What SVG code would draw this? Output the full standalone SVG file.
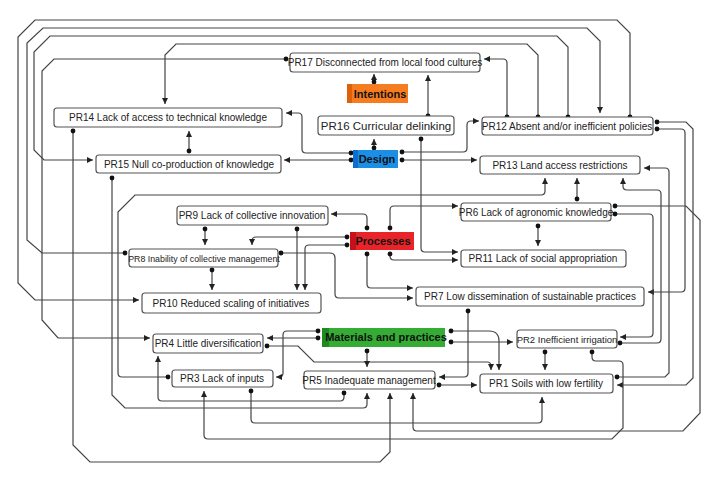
<svg xmlns="http://www.w3.org/2000/svg" width="723" height="484" viewBox="0 0 723 484">
<defs>
<marker id="ar" markerUnits="userSpaceOnUse" markerWidth="7" markerHeight="7" refX="6" refY="3.5" orient="auto"><path d="M0,0.5 L6,3.5 L0,6.5 z" fill="#222"/></marker>
<marker id="dt" markerUnits="userSpaceOnUse" markerWidth="6" markerHeight="6" refX="3" refY="3" orient="auto"><circle cx="3" cy="3" r="2.4" fill="#111"/></marker>
<style>
.n rect{fill:#fff;stroke:#555;stroke-width:1.2}
.n text{font-family:"Liberation Sans",Arial,sans-serif;font-size:10px;fill:#222;text-anchor:middle}
.c text{font-family:"Liberation Sans",Arial,sans-serif;font-size:11px;font-weight:bold;fill:#111;text-anchor:middle}
#conn path{fill:none;stroke:#444;stroke-width:1.2;marker-start:url(#dt);marker-end:url(#ar)}
</style>
</defs>
<rect width="723" height="484" fill="#fff"/>
<g id="conn">
<path d="M630,117 V33 L617,20 H35 L18,37 V283 L35,300 H139"/>
<path d="M125,253 H42 L27,240 V43 L43,28 H587 L600,41 V113"/>
<path d="M568,117 V47 L557,36 H50 L34,52 V150 L44,160 H93"/>
<path d="M538,117 V55 L527,44 H176 L165,55 V104"/>
<path d="M286,59 H54 L42,71 V320 L58,338 H150"/>
<path d="M507,117 V63 Q507,59 503,59 H484"/>
<path d="M428,116 V75"/>
<path d="M374,82 V74"/>
<path d="M374,148 V139"/>
<path d="M402,152 H463 Q467,152 467,148 V125 Q467,121 471,121 H479"/>
<path d="M402,160 H477"/>
<path d="M351,153 H306 Q302,153 302,149 V117 Q302,113 298,113 H286"/>
<path d="M351,160 H284"/>
<path d="M189,151 V131"/>
<path d="M73,131 V445 L90,462 H380 L390,452 V393"/>
<path d="M112,178 V395 L125,408 H363 Q367,408 367,404 V393"/>
<path d="M168,377 H122 Q118,377 118,373 V212 L135,195 H541 Q545,195 545,191 V178"/>
<path d="M421,139 V248 Q421,252 425,252 H458"/>
<path d="M205,229 V245"/>
<path d="M297,229 V290"/>
<path d="M347,237 H256 Q252,237 252,241 V245"/>
<path d="M347,245 H309 Q305,245 305,249 V290"/>
<path d="M367,228 V218 Q367,214 363,214 H331"/>
<path d="M390,228 V210 Q390,206 394,206 H458"/>
<path d="M390,254 V256 Q390,260 394,260 H458"/>
<path d="M367,254 V284 Q367,288 371,288 H413"/>
<path d="M281,253 H330 Q335,253 335,258 V294 Q335,298 339,298 H413"/>
<path d="M212,270 V290"/>
<path d="M318,331 H287 Q283,331 283,335 V373 Q283,377 279,377 H276"/>
<path d="M318,338 H267"/>
<path d="M267,346 H298 L314,362 H487 Q491,362 491,366 V370"/>
<path d="M451,331 H489 Q499,331 499,341 V370"/>
<path d="M451,342 H513"/>
<path d="M367,351 V367"/>
<path d="M468,311 V373 Q468,377 464,377 H439"/>
<path d="M439,385 H477"/>
<path d="M545,352 V370"/>
<path d="M577,199 V178"/>
<path d="M538,226 V246"/>
<path d="M657,122 H686 L693,129 V378 L686,385 H617"/>
<path d="M657,129 H681 Q685,129 685,133 V288 Q685,292 681,292 H648"/>
<path d="M617,377 H665 L669,373 V172 Q669,168 665,168 H644"/>
<path d="M620,343 H657 Q661,343 661,339 V194 Q661,190 657,190 H627 Q623,190 623,186 V178"/>
<path d="M615,214 H649 Q653,214 653,218 V333 Q653,337 649,337 H620"/>
<path d="M615,206 H686 L700,220 V413 L683,431 H417 Q413,431 413,427 V393"/>
<path d="M344,393 V397 Q344,401 340,401 H162 Q158,401 158,397 V356"/>
<path d="M251,391 V419 Q251,423 255,423 H538 Q542,423 542,419 V397"/>
<path d="M592,352 V357 Q592,361 596,361 H619 Q623,361 623,365 V428 L612,439 H208 Q204,439 204,435 V391"/>
</g>
<g id="PR17" class="n"><rect x="290" y="53" width="190" height="19" rx="3"/><text x="385" y="66">PR17 Disconnected from local food cultures</text></g>
<g id="intentions" class="c"><rect x="347" y="84" width="61" height="19" fill="#f57d1f"/><rect x="347" y="84" width="5" height="19" fill="#e0600a"/><text x="380" y="97.5">Intentions</text></g>
<g id="PR16" class="n"><rect x="318" y="116" width="136" height="19" rx="3"/><text x="386" y="130" style="font-size:11.5px">PR16 Curricular delinking</text></g>
<g id="PR14" class="n"><rect x="54" y="108" width="228" height="19" rx="3"/><text x="168" y="121">PR14 Lack of access to technical knowledge</text></g>
<g id="PR12" class="n"><rect x="482" y="117" width="171" height="18" rx="3"/><text x="567" y="130">PR12 Absent and/or inefficient policies</text></g>
<g id="design" class="c"><rect x="353" y="150" width="45" height="18" fill="#1b8fe6"/><rect x="353" y="150" width="5" height="18" fill="#0a6fd0"/><text x="377" y="163">Design</text></g>
<g id="PR15" class="n"><rect x="96" y="155" width="185" height="18" rx="3"/><text x="189" y="168">PR15 Null co-production of knowledge</text></g>
<g id="PR13" class="n"><rect x="480" y="156" width="160" height="18" rx="3"/><text x="560" y="169">PR13 Land access restrictions</text></g>
<g id="PR9" class="n"><rect x="177" y="206" width="151" height="19" rx="3"/><text x="252" y="219">PR9 Lack of collective innovation</text></g>
<g id="PR6" class="n"><rect x="461" y="203" width="150" height="18" rx="3"/><text x="536" y="216">PR6 Lack of agronomic knowledge</text></g>
<g id="processes" class="c"><rect x="350" y="232" width="64" height="18" fill="#e8242a"/><rect x="350" y="232" width="6" height="18" fill="#c8101a"/><text x="383" y="245">Processes</text></g>
<g id="PR8" class="n"><rect x="129" y="249" width="149" height="18" rx="3"/><text x="204" y="261.5" style="font-size:8.8px">PR8 Inability of collective management</text></g>
<g id="PR11" class="n"><rect x="461" y="250" width="165" height="17" rx="3"/><text x="543" y="262">PR11 Lack of social appropriation</text></g>
<g id="PR10" class="n"><rect x="142" y="293" width="179" height="20" rx="3"/><text x="231" y="307">PR10 Reduced scaling of initiatives</text></g>
<g id="PR7" class="n"><rect x="416" y="287" width="228" height="19" rx="3"/><text x="530" y="300">PR7 Low dissemination of sustainable practices</text></g>
<g id="PR4" class="n"><rect x="153" y="334" width="110" height="19" rx="3"/><text x="208" y="347">PR4 Little diversification</text></g>
<g id="materials" class="c"><rect x="322" y="328" width="123" height="19" fill="#35ad35"/><rect x="322" y="328" width="7" height="19" fill="#1f8a1f"/><text x="386" y="341">Materials and practices</text></g>
<g id="PR2" class="n"><rect x="517" y="330" width="100" height="18" rx="3"/><text x="567" y="343" style="font-size:9.5px">PR2 Inefficient irrigation</text></g>
<g id="PR3" class="n"><rect x="172" y="370" width="101" height="17" rx="3"/><text x="222" y="382">PR3 Lack of inputs</text></g>
<g id="PR5" class="n"><rect x="304" y="371" width="131" height="18" rx="3"/><text x="369" y="384">PR5 Inadequate management</text></g>
<g id="PR1" class="n"><rect x="480" y="374" width="133" height="19" rx="3"/><text x="546" y="387">PR1 Soils with low fertility</text></g>
</svg>
